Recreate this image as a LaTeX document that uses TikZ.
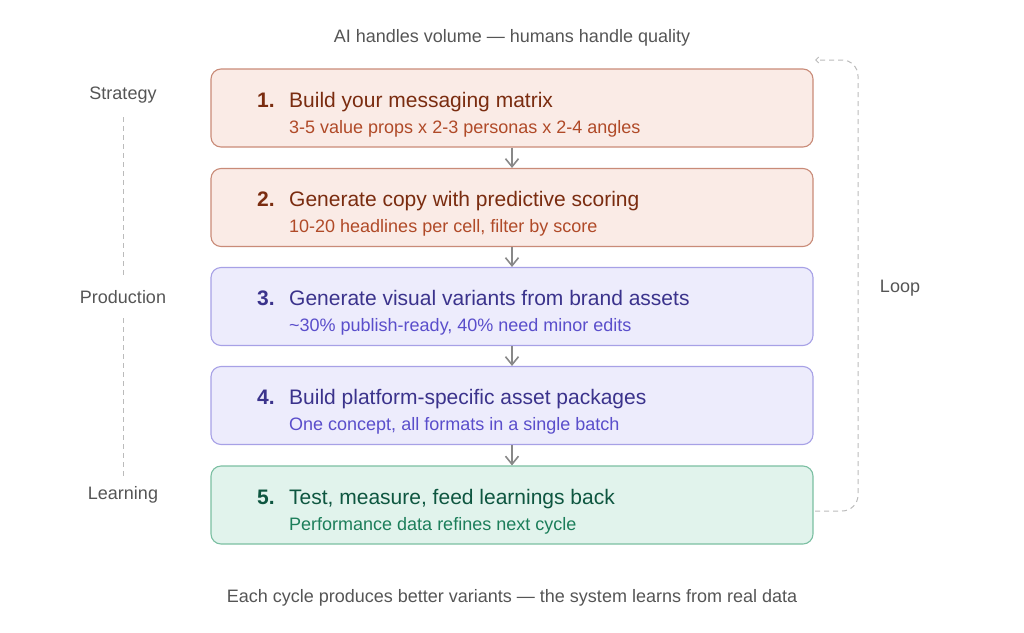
\documentclass[tikz,border=0pt]{standalone}
\usepackage{fontspec}
\setmainfont{Liberation Sans}
\usetikzlibrary{arrows.meta}
\definecolor{rfill}{HTML}{FAEBE6}
\definecolor{rdraw}{HTML}{C98B78}
\definecolor{rtitle}{HTML}{7A2C10}
\definecolor{rsub}{HTML}{B04A28}
\definecolor{pfill}{HTML}{EDECFC}
\definecolor{pdraw}{HTML}{A7A1E6}
\definecolor{ptitle}{HTML}{3B338C}
\definecolor{psub}{HTML}{5A4ECB}
\definecolor{gfill}{HTML}{E1F3EC}
\definecolor{gdraw}{HTML}{7BBFA2}
\definecolor{gtitle}{HTML}{0E5640}
\definecolor{gsub}{HTML}{1C7E5A}
\definecolor{labgray}{HTML}{555555}
\definecolor{dashgray}{HTML}{BBBBBB}
\definecolor{arrgray}{HTML}{888888}
\tikzset{
  stepbox/.style={draw, rounded corners=10pt, line width=1.1pt, minimum width=602pt, minimum height=78pt, inner sep=0pt},
  numtxt/.style={anchor=base west, font=\fontsize{21}{24}\selectfont\bfseries, inner sep=0pt},
  ttltxt/.style={anchor=base west, font=\fontsize{21}{24}\selectfont, inner sep=0pt},
  subtxt/.style={anchor=base west, font=\fontsize{18}{21}\selectfont, inner sep=0pt},
  graytxt/.style={text=labgray, font=\fontsize{18}{21}\selectfont, inner sep=0pt},
  flowarrow/.style={draw=arrgray, line width=1.6pt, -{Straight Barb[length=8pt,width=13pt,line width=1.6pt]}},
  guideline/.style={draw=dashgray, line width=1pt, dash pattern=on 5pt off 4pt},
}
\begin{document}
\begin{tikzpicture}[x=1pt,y=-1pt]
\useasboundingbox (0,0) rectangle (1024,632);
% boxes
\node[stepbox, fill=rfill, draw=rdraw] (b1) at (512,108) {};
\node[stepbox, fill=rfill, draw=rdraw] (b2) at (512,207.5) {};
\node[stepbox, fill=pfill, draw=pdraw] (b3) at (512,306.5) {};
\node[stepbox, fill=pfill, draw=pdraw] (b4) at (512,405.5) {};
\node[stepbox, fill=gfill, draw=gdraw] (b5) at (512,505) {};
% texts
\node[numtxt, text=rtitle] (n1) at (257,107) {1.};
\node[ttltxt, text=rtitle] (t1) at (289,107) {Build your messaging matrix};
\node[subtxt, text=rsub] (s1) at (289,133) {3-5 value props x 2-3 personas x 2-4 angles};
\node[numtxt, text=rtitle] (n2) at (257,206.5) {2.};
\node[ttltxt, text=rtitle] (t2) at (289,206.5) {Generate copy with predictive scoring};
\node[subtxt, text=rsub] (s2) at (289,232.5) {10-20 headlines per cell, filter by score};
\node[numtxt, text=ptitle] (n3) at (257,305.5) {3.};
\node[ttltxt, text=ptitle] (t3) at (289,305.5) {Generate visual variants from brand assets};
\node[subtxt, text=psub] (s3) at (289,331.5) {\textasciitilde30\% publish-ready, 40\% need minor edits};
\node[numtxt, text=ptitle] (n4) at (257,404.5) {4.};
\node[ttltxt, text=ptitle] (t4) at (289,404.5) {Build platform-specific asset packages};
\node[subtxt, text=psub] (s4) at (289,430.5) {One concept, all formats in a single batch};
\node[numtxt, text=gtitle] (n5) at (257,504) {5.};
\node[ttltxt, text=gtitle] (t5) at (289,504) {Test, measure, feed learnings back};
\node[subtxt, text=gsub] (s5) at (289,530) {Performance data refines next cycle};
% arrows
\draw[flowarrow] (b1.south) -- (b2.north);
\draw[flowarrow] (b2.south) -- (b3.north);
\draw[flowarrow] (b3.south) -- (b4.north);
\draw[flowarrow] (b4.south) -- (b5.north);
% headings
\node[graytxt] (top) at (512,38) {AI handles volume — humans handle quality};
\node[graytxt] (bot) at (512,598) {Each cycle produces better variants — the system learns from real data};
% phase labels
\node[graytxt] (strat) at (123,95) {Strategy};
\node[graytxt] (prod) at (123,297) {Production};
\node[graytxt] (learn) at (123,495) {Learning};
\draw[guideline] (123,117) -- (123,276);
\draw[guideline] (123,318) -- (123,476);
% loop bracket
\coordinate (lstart) at (815,511);
\coordinate (lend) at (815,60);
\draw[guideline, rounded corners=16pt, -{Straight Barb[length=3pt,width=6pt,line width=1pt]}] (lstart) -- (858,511) -- (858,60) -- (lend);
\node[graytxt] (loop) at (900,288) {Loop};
\end{tikzpicture}
\end{document}
